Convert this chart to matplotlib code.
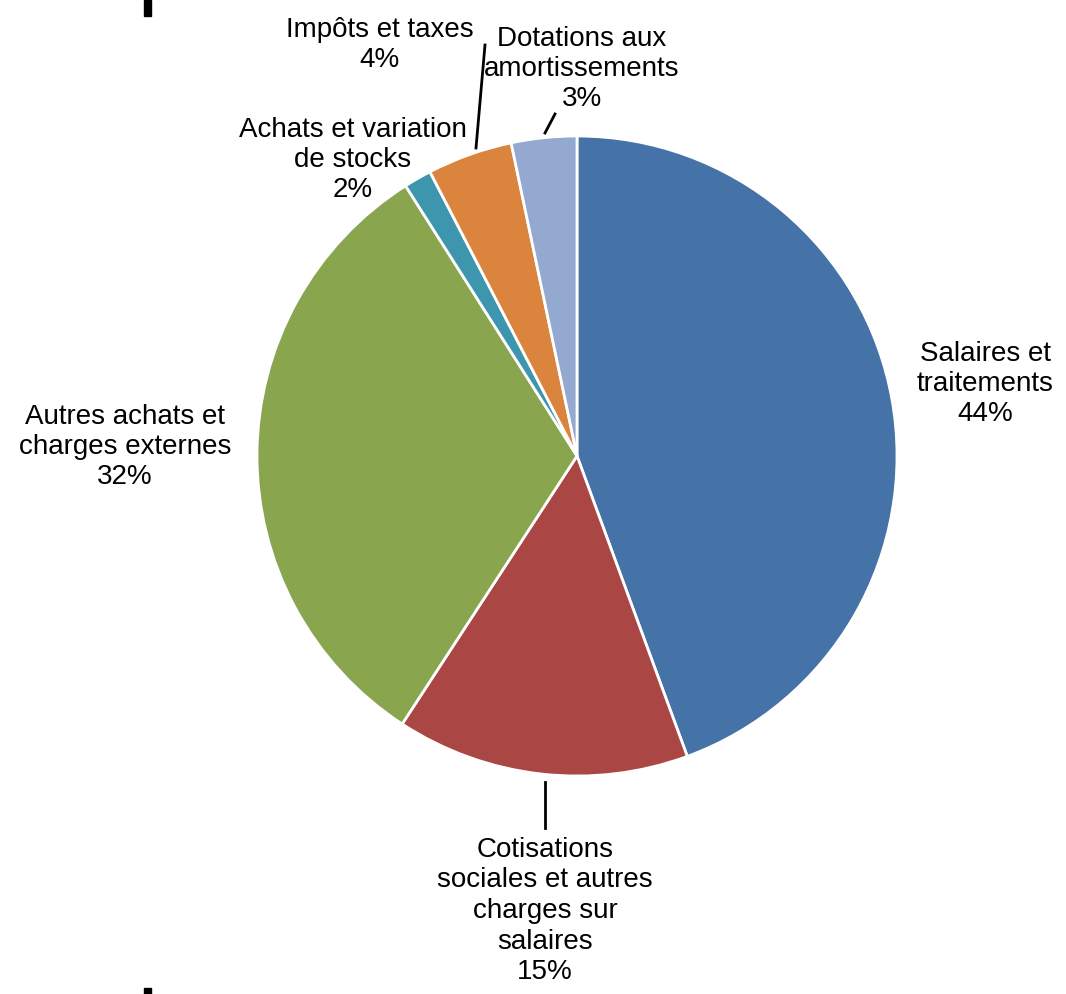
import matplotlib.pyplot as plt
from matplotlib.patches import Rectangle

plt.rcParams['font.family'] = ['Liberation Sans', 'DejaVu Sans']

categories = ["Salaires et\ntraitements", "Cotisations\nsociales et autres\ncharges sur\nsalaires",
              "Autres achats et\ncharges externes", "Achats et variation\nde stocks",
              "Impôts et taxes", "Dotations aux\namortissements"]
values = [44.4, 14.8, 31.8, 1.4, 4.3, 3.3]
pct_labels = ["44%", "15%", "32%", "2%", "4%", "3%"]
colors = ["#4572A7", "#AA4643", "#89A54E", "#3D96AE", "#DB843D", "#93A9CF"]

W, H = 1066, 994
fig = plt.figure(figsize=(W / 100, H / 100), dpi=100)
ax = fig.add_axes([0, 0, 1, 1])

# pie drawn in pixel-like coords (y down)
ax.pie(values, colors=colors, startangle=-90, counterclock=True,
       center=(577, 456), radius=320, frame=True,
       wedgeprops=dict(edgecolor='white', linewidth=2))
ax.set_xlim(0, W)
ax.set_ylim(H, 0)
ax.set_aspect('equal')
ax.axis('off')

# label positions (text block centres) and leader lines
label_pos = [(985, 384), (545, 911), (125, 447), (353, 160), (380, 45), (582, 69)]
spacing = [1.2, 1.23, 1.2, 1.2, 1.2, 1.2]
for name, pct, (x, y), ls in zip(categories, pct_labels, label_pos, spacing):
    ax.text(x, y, name + "\n" + pct, ha='center', va='center', fontsize=20,
            linespacing=ls, color='black')

leaders = [((545, 545), (782, 828)), ((476, 485), (148, 45)), ((545, 555), (133, 114))]
for xs, ys in leaders:
    ax.plot(xs, ys, color='black', lw=2)

# cropping marks
ax.add_patch(Rectangle((144, 0), 7, 16, color='black'))
ax.add_patch(Rectangle((144, 988), 7, 6, color='black'))

fig.savefig("out.png", dpi=100)
